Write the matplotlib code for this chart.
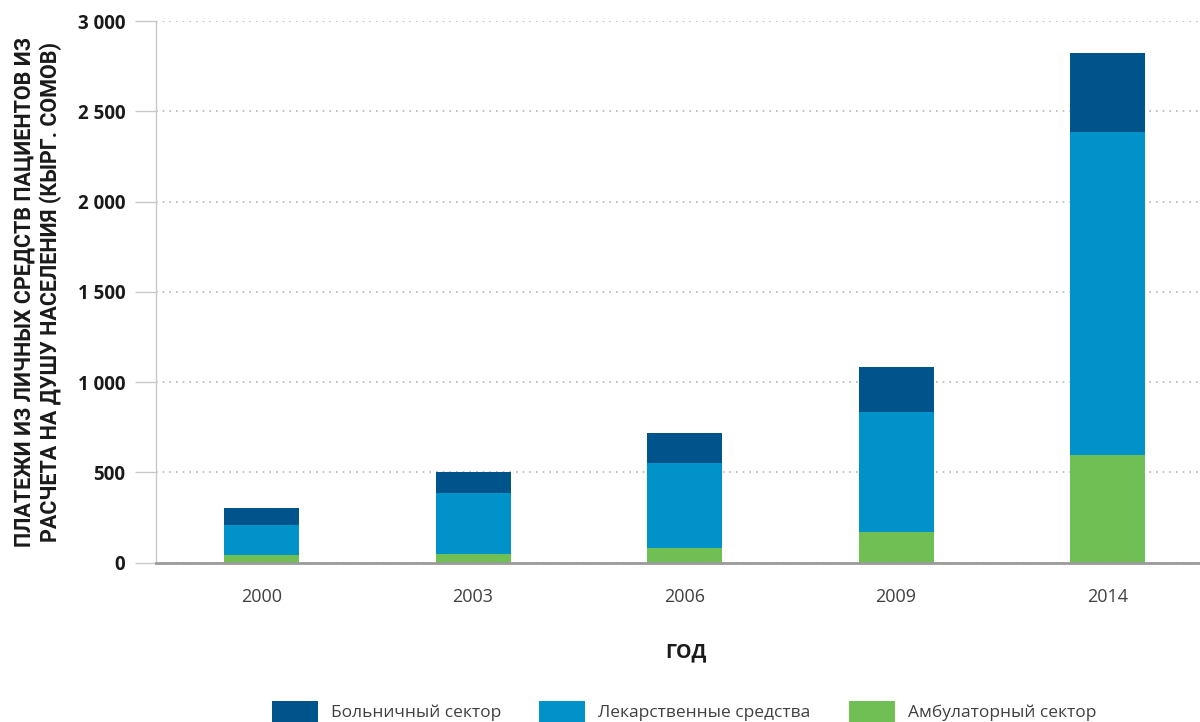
import matplotlib
matplotlib.use("Agg")
import matplotlib.pyplot as plt
from matplotlib.patches import Patch
from matplotlib.ticker import FuncFormatter
import numpy as np

plt.rcParams['font.family'] = ['Open Sans', 'DejaVu Sans']

# Out-of-pocket payments per capita, KGS
years = ["2000", "2003", "2006", "2009", "2014"]
outpatient = [42, 47, 80, 169, 596]          # Амбулаторный сектор
medicines = [166, 338, 471, 665, 1790]       # Лекарственные средства
hospital = [94, 117, 167, 250, 438]          # Больничный сектор

series_names = ["Больничный сектор", "Лекарственные средства", "Амбулаторный сектор"]
c_hosp, c_med, c_out = "#00548C", "#0092C9", "#70BF54"

fig = plt.figure(figsize=(12, 7.22), dpi=100)
ax = fig.add_axes([0.13, (722 - 562.5) / 722, 0.87, (562.5 - 21.3) / 722])

x = np.arange(len(years))
w = 0.355
ax.bar(x, outpatient, w, color=c_out, zorder=3)
bottom2 = np.array(outpatient)
ax.bar(x, medicines, w, bottom=bottom2, color=c_med, zorder=3)
bottom3 = bottom2 + np.array(medicines)
ax.bar(x, hospital, w, bottom=bottom3, color=c_hosp, zorder=3)

ax.set_xlim(-0.499, 4.437)
ax.set_ylim(0, 3000)
ax.set_yticks(np.arange(0, 3001, 500))
ax.yaxis.set_major_formatter(FuncFormatter(lambda v, p: f"{int(v):,}".replace(",", " ")))
ax.set_xticks(x)
ax.set_xticklabels(years)

ax.grid(axis='y', linestyle=(0, (1, 3)), color='#b5b5b5', linewidth=1.2, zorder=0)
for s in ['top', 'right']:
    ax.spines[s].set_visible(False)
ax.spines['left'].set_color('#c8c8c8')
ax.spines['left'].set_linewidth(1.0)
ax.spines['bottom'].set_color('#9a9a9a')
ax.spines['bottom'].set_linewidth(2.0)
ax.spines['bottom'].set_zorder(4)

ax.tick_params(axis='y', direction='out', length=15, width=1, color='#c8c8c8',
               pad=7, labelsize=13.5, labelcolor='#1a1a1a')
for t in ax.get_yticklabels():
    t.set_fontweight('bold')
ax.tick_params(axis='x', length=0, pad=18, labelsize=13, labelcolor='#404040')

ax.set_xlabel("ГОД", fontsize=14, fontweight='bold', color='#1a1a1a')
ax.xaxis.set_label_coords((686 - 156) / 1044, -(652 - 562.5) / 541.2)
ax.xaxis.label.set_va('center')

ax.set_ylabel("ПЛАТЕЖИ ИЗ ЛИЧНЫХ СРЕДСТВ ПАЦИЕНТОВ ИЗ\nРАСЧЕТА НА ДУШУ НАСЕЛЕНИЯ (КЫРГ. СОМОВ)",
              fontsize=15.5, fontweight='bold', color='#1a1a1a', linespacing=1.25,
              family=['Roboto', 'DejaVu Sans'])
ax.yaxis.set_label_coords(-(156 - 38) / 1044, 0.5)
ax.yaxis.label.set_va('center')

handles = [Patch(facecolor=c_hosp), Patch(facecolor=c_med), Patch(facecolor=c_out)]
fig.legend(handles, series_names, loc='upper left', bbox_to_anchor=(272 / 1200, 1 - 701 / 722),
           ncol=3, frameon=False, fontsize=12.5, handlelength=2.65, handleheight=1.5,
           handletextpad=0.75, columnspacing=2.2, borderpad=0, borderaxespad=0,
           labelcolor='#404040')

fig.savefig("out.png", dpi=100)
